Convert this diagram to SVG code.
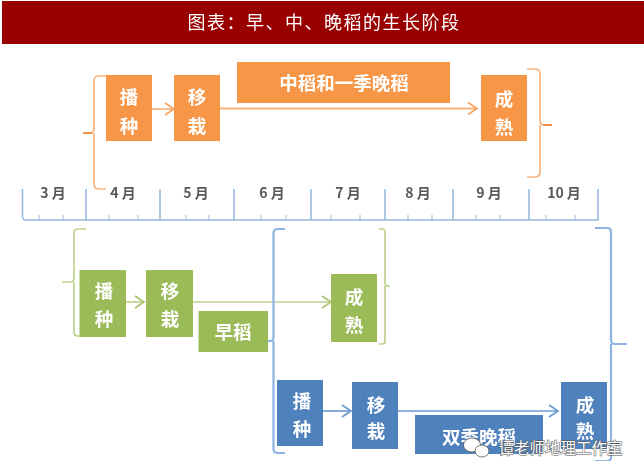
<svg xmlns="http://www.w3.org/2000/svg" width="644" height="476" viewBox="0 0 644 476">
<style>
text{font-family:"Noto Sans CJK SC","Liberation Sans",sans-serif;text-anchor:middle}
.lbl{fill:#fff;font-size:18.500px;font-weight:700}
.mon{fill:#595959;font-size:14px;font-weight:700}
.o{fill:#f79646}.g{fill:#9bbb59}.b{fill:#4f81bd}
.lo,.lg,.lb,.ax{fill:none;stroke-width:1.700;stroke-linejoin:round}
.lo{stroke:#f9b47e}.lg{stroke:#bdd28f}.lb{stroke:#8db4e2}
.ln{stroke-width:2.200}
.bd{stroke:#6d9bd1}
.ax{stroke:#95b8dc;stroke-width:1.500}
.minor{stroke-width:1}
.tip{fill:none;stroke-width:1.800;stroke:#f08a3c}
.mk{fill:none;stroke-width:1.700}
</style>
<defs>
<filter id="soft" x="0" y="0" width="100%" height="100%"><feGaussianBlur stdDeviation="0.45"/></filter>
<marker id="ao" markerWidth="12" markerHeight="14" refX="10" refY="7" orient="auto" markerUnits="userSpaceOnUse"><path class="mk" d="M1 1L10 7L1 13" stroke="#f9a464"/></marker>
<marker id="ag" markerWidth="12" markerHeight="14" refX="10" refY="7" orient="auto" markerUnits="userSpaceOnUse"><path class="mk" d="M1 1L10 7L1 13" stroke="#a9c56e"/></marker>
<marker id="ab" markerWidth="12" markerHeight="14" refX="10" refY="7" orient="auto" markerUnits="userSpaceOnUse"><path class="mk" d="M1 1L10 7L1 13" stroke="#6d9bd1"/></marker>
</defs>
<rect width="644" height="476" fill="#fff"/>
<g filter="url(#soft)">
<g id="header"><rect x="2" y="1" width="642" height="43" fill="#990000"/>
<text x="324" y="28.500" fill="#fff" font-size="18" letter-spacing="1.500">图表：早、中、晚稻的生长阶段</text></g>

<g id="connectors">
<path class="lo" d="M106 76H99Q94 76 94 81V128Q94 133 90 133H83M94 133V184Q94 189 99 189H106"/>
<path class="tip" d="M83 133H92"/>
<path class="lo" d="M527 69H535Q540 69 540 74V120Q540 125 544 125H552M540 125V172Q540 177 535 177H527"/>
<path class="tip" d="M543 125H552"/>
<path class="lo" marker-end="url(#ao)" d="M149 109H174"/>
<path class="lo ln" marker-end="url(#ao)" d="M219 108.500H477"/>

<path class="lg" d="M86 229H78Q74 229 74 233V278Q74 282 70 282H62M74 282V332Q74 336 78 336H86"/>
<path class="lg" d="M379 229H382Q385 229 385 232V283Q385 286 388 286H390M385 286V341Q385 344 382 344H379"/>
<path class="lg" marker-end="url(#ag)" d="M126 302H144"/>
<path class="lg" marker-end="url(#ag)" d="M193 302H331"/>

<path class="lb ln" d="M285 229H278Q273.500 229 273.500 233V337Q273.500 341 270 341H260M273.500 341V449Q273.500 453 278 453H285"/>
<path class="lb ln" d="M595 228H607Q611 228 611 232V340Q611 344 615 344H627M611 344V457Q611 461 607 461H595"/>
<path class="lb bd" marker-end="url(#ab)" d="M323 411H351"/>
<path class="lb ln" marker-end="url(#ab)" d="M398 411H558"/>
</g>

<g id="timeline">
<path class="ax" d="M22.500 189V216Q22.500 220 26 220H598V189M86 189V220M160 189V220M234 189V220M311 189V220M385 189V220M453 189V220M529 189V220"/>
<path class="ax minor" d="M39 215V220M63 215V220M109 215V220M138 215V220M186 215V220M209 215V220M261 215V220M286 215V220M331 215V220M360 215V220M408 215V220M432 215V220M476 215V220M500 215V220M546 215V220M575 215V220"/>
<text class="mon" x="53" y="198">3 月</text>
<text class="mon" x="123" y="198">4 月</text>
<text class="mon" x="196" y="198">5 月</text>
<text class="mon" x="272" y="198">6 月</text>
<text class="mon" x="348" y="198">7 月</text>
<text class="mon" x="418" y="198">8 月</text>
<text class="mon" x="489" y="198">9 月</text>
<text class="mon" x="564" y="198">10 月</text>
</g>

<g id="o1"><rect class="o" x="106" y="75" width="46" height="66"/><text class="lbl" x="129" y="104">播</text><text class="lbl" x="129" y="133">种</text></g>
<g id="o2"><rect class="o" x="174" y="75" width="46" height="66"/><text class="lbl" x="197" y="104">移</text><text class="lbl" x="197" y="133">栽</text></g>
<g id="o3"><rect class="o" x="237" y="62" width="213" height="41"/><text class="lbl" x="344" y="90">中稻和一季晚稻</text></g>
<g id="o4"><rect class="o" x="481" y="75" width="46" height="66"/><text class="lbl" x="504" y="106">成</text><text class="lbl" x="504" y="134">熟</text></g>

<g id="g1"><rect class="g" x="79.500" y="270" width="46.500" height="67"/><text class="lbl" x="104" y="298">播</text><text class="lbl" x="104" y="326">种</text></g>
<g id="g2"><rect class="g" x="146" y="270" width="47" height="67"/><text class="lbl" x="170" y="298">移</text><text class="lbl" x="170" y="326">栽</text></g>
<g id="g3"><rect class="g" x="198.500" y="311" width="69.500" height="41"/><text class="lbl" x="233" y="339">早稻</text></g>
<g id="g4"><rect class="g" x="331" y="274" width="46" height="68"/><text class="lbl" x="354" y="304">成</text><text class="lbl" x="354" y="332">熟</text></g>

<g id="b1"><rect class="b" x="277" y="380" width="46" height="66"/><text class="lbl" x="302" y="408">播</text><text class="lbl" x="302" y="436">种</text></g>
<g id="b2"><rect class="b" x="352" y="382" width="46" height="67"/><text class="lbl" x="376" y="412">移</text><text class="lbl" x="376" y="438">栽</text></g>
<g id="b3"><rect class="b" x="415" y="415" width="128" height="39"/><text class="lbl" x="479" y="444">双季晚稻</text></g>
<g id="b4"><rect class="b" x="561" y="382" width="46" height="67"/><text class="lbl" x="585" y="412">成</text><text class="lbl" x="585" y="438">熟</text></g>
</g>

<g id="watermark">
<ellipse cx="472" cy="445" rx="8.500" ry="7" fill="#fff" stroke="#555" stroke-width="0.800"/>
<ellipse cx="482" cy="451" rx="7" ry="6" fill="#fff" stroke="#555" stroke-width="0.800"/>
<text x="560.500" y="454" style="font-size:15.500px;paint-order:stroke;stroke:#555;stroke-width:1px;fill:#fff">谭老师地理工作室</text>
</g>
</svg>
